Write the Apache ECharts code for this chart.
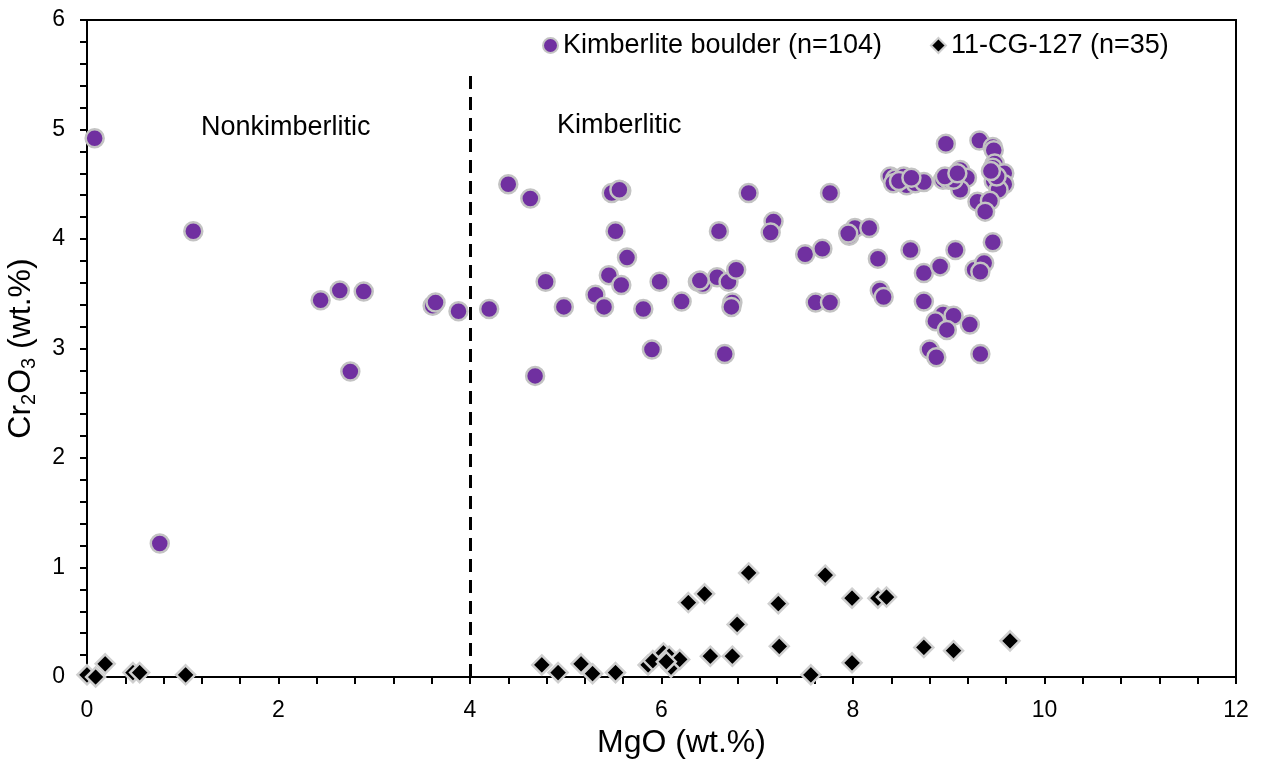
<!DOCTYPE html>
<html>
<head>
<meta charset="utf-8">
<script src="https://cdn.jsdelivr.net/npm/echarts@6/dist/echarts.min.js"></script>
<style>
html,body{margin:0;padding:0;background:#fff;}
#chart{width:1262px;height:759px;}
</style>
</head>
<body>
<div id="chart"></div>
<script>
// Kimberlite boulder (n=104): [MgO, Cr2O3]
const boulderMgO = [0.08,1.11,0.76,2.44,2.64,2.89,2.75,3.61,3.64,3.88,4.20,4.40,4.63,4.79,4.68,4.98,5.48,5.58,5.52,5.64,5.45,5.58,5.31,5.40,5.81,5.98,5.90,6.21,6.38,6.43,6.58,6.70,6.78,6.74,6.73,6.60,6.66,6.91,7.17,7.14,7.50,7.68,7.61,7.76,7.76,7.96,8.02,8.17,8.97,9.32,9.46,9.47,9.48,9.46,9.58,9.47,9.54,9.58,9.52,9.30,9.43,9.38,8.39,8.44,8.53,8.56,8.65,8.74,8.42,8.94,9.00,9.12,9.19,9.12,9.05,8.26,8.60,9.07,9.46,8.74,8.91,9.27,9.37,9.33,8.28,8.32,8.74,8.94,9.05,8.86,8.98,9.22,8.80,8.87,9.33,5.56,8.48,8.61,9.50,9.44,8.96,6.40,9.09,7.95];
const boulderCr2O3 = [4.92,4.07,1.22,3.44,3.53,3.52,2.79,3.39,3.42,3.34,3.36,4.50,4.37,3.61,2.75,3.38,4.42,4.44,4.07,3.83,3.67,3.58,3.49,3.38,3.36,3.61,2.99,3.43,3.61,3.59,3.65,3.61,3.72,3.42,3.38,4.07,2.95,4.42,4.16,4.06,3.86,3.91,3.42,3.42,4.42,4.03,4.10,4.10,4.87,4.90,4.84,4.81,4.69,4.65,4.60,4.53,4.51,4.50,4.45,4.34,4.35,4.25,4.57,4.55,4.57,4.49,4.51,4.52,4.51,4.54,4.54,4.63,4.56,4.45,4.54,3.82,3.90,3.90,3.97,3.69,3.75,3.72,3.78,3.70,3.53,3.47,3.43,3.31,3.30,3.25,3.17,3.22,2.99,2.92,2.95,4.45,4.53,4.56,4.57,4.62,4.57,3.62,4.60,4.05];
// 11-CG-127 (n=35): [MgO, Cr2O3]
const cgMgO = [4.75,4.92,5.16,5.28,5.52,5.86,5.91,6.02,6.08,6.10,6.19,6.28,6.45,6.51,6.74,6.79,6.91,7.22,7.23,7.56,7.71,7.99,7.99,8.26,8.35,8.74,9.05,9.64,0.00,0.09,0.19,0.48,0.55,1.03,6.05];
const cgCr2O3 = [0.11,0.04,0.12,0.03,0.04,0.11,0.15,0.22,0.19,0.09,0.16,0.68,0.76,0.19,0.19,0.48,0.95,0.67,0.28,0.02,0.93,0.72,0.13,0.72,0.73,0.27,0.24,0.33,0.02,0.00,0.12,0.04,0.04,0.02,0.14];
const seriesNames = ['Kimberlite boulder (n=104)', '11-CG-127 (n=35)'];
const xTicks = [0,2,4,6,8,10,12];
const yTicks = [0,1,2,3,4,5,6];
const boundaryMgO = 4;
const boundaryTop = 5.52;
const regionLabels = ['Nonkimberlitic', 'Kimberlitic'];

const FONT = '"Liberation Sans", Arial, sans-serif';
const boulder = boulderMgO.map((x, i) => [x, boulderCr2O3[i]]);
const cg = cgMgO.map((x, i) => [x, cgCr2O3[i]]);

const chart = echarts.init(document.getElementById('chart'), null, {renderer: 'canvas'});
const axisCommon = {
  axisLine: {show: true, onZero: false, lineStyle: {color: '#000', width: 2}},
  axisTick: {show: true, inside: false, length: 7, lineStyle: {color: '#000', width: 2}},
  minorTick: {show: true, splitNumber: 5, length: 7, lineStyle: {color: '#000', width: 2}},
  splitLine: {show: false},
  minorSplitLine: {show: false}
};
chart.setOption({
  animation: false,
  backgroundColor: '#fff',
  textStyle: {fontFamily: FONT},
  grid: {left: 87, right: 26, top: 20, bottom: 82, containLabel: false, outerBoundsMode: 'none',
         show: true, borderColor: '#000', borderWidth: 2, backgroundColor: 'transparent'},
  legend: {
    show: true,
    left: 537, top: 27,
    itemWidth: 15, itemHeight: 15, itemGap: 48,
    textStyle: {fontFamily: FONT, fontSize: 27, color: '#000'},
    data: [
      {name: seriesNames[0], icon: 'circle'},
      {name: seriesNames[1], icon: 'diamond'}
    ]
  },
  xAxis: Object.assign({
    type: 'value', min: xTicks[0], max: xTicks[xTicks.length - 1], interval: 2,
    name: 'MgO (wt.%)', nameLocation: 'middle', nameGap: 50,
    nameTextStyle: {fontFamily: FONT, fontSize: 32, color: '#000', padding: [0, 0, 0, 40]},
    axisLabel: {fontFamily: FONT, fontSize: 23, color: '#000', margin: 22}
  }, axisCommon),
  yAxis: Object.assign({
    type: 'value', min: yTicks[0], max: yTicks[yTicks.length - 1], interval: 1,
    name: '{b|Cr}{s|2}{b|O}{s|3}{b| (wt.%)}', nameLocation: 'middle', nameGap: 48, nameRotate: 90,
    nameTextStyle: {
      fontFamily: FONT, color: '#000',
      rich: {
        b: {fontFamily: FONT, fontSize: 32, lineHeight: 36, color: '#000'},
        s: {fontFamily: FONT, fontSize: 20, lineHeight: 20, verticalAlign: 'bottom', color: '#000'}
      }
    },
    axisLabel: {fontFamily: FONT, fontSize: 23, color: '#000', margin: 22}
  }, axisCommon),
  series: [
    {
      name: seriesNames[0], type: 'scatter', data: boulder,
      symbol: 'circle', symbolSize: 18,
      itemStyle: {color: '#7030A0', borderColor: '#c3c3c3', borderWidth: 2.5, opacity: 1},
      z: 3,
      markLine: {
        silent: true, symbol: ['none', 'none'], animation: false,
        label: {show: false},
        lineStyle: {color: '#000', width: 3, type: [13, 8]},
        data: [[{coord: [boundaryMgO, 0]}, {coord: [boundaryMgO, boundaryTop]}]]
      }
    },
    {
      name: seriesNames[1], type: 'scatter', data: cg,
      symbol: 'diamond', symbolSize: 19,
      itemStyle: {color: '#000', borderColor: '#cfcfcf', borderWidth: 2.5, opacity: 1},
      z: 4
    }
  ],
  graphic: [
    {type: 'text', left: 201, top: 114, style: {text: regionLabels[0], font: '27px ' + FONT, fill: '#000'}},
    {type: 'text', left: 557, top: 112, style: {text: regionLabels[1], font: '27px ' + FONT, fill: '#000'}}
  ]
});
</script>
</body>
</html>
